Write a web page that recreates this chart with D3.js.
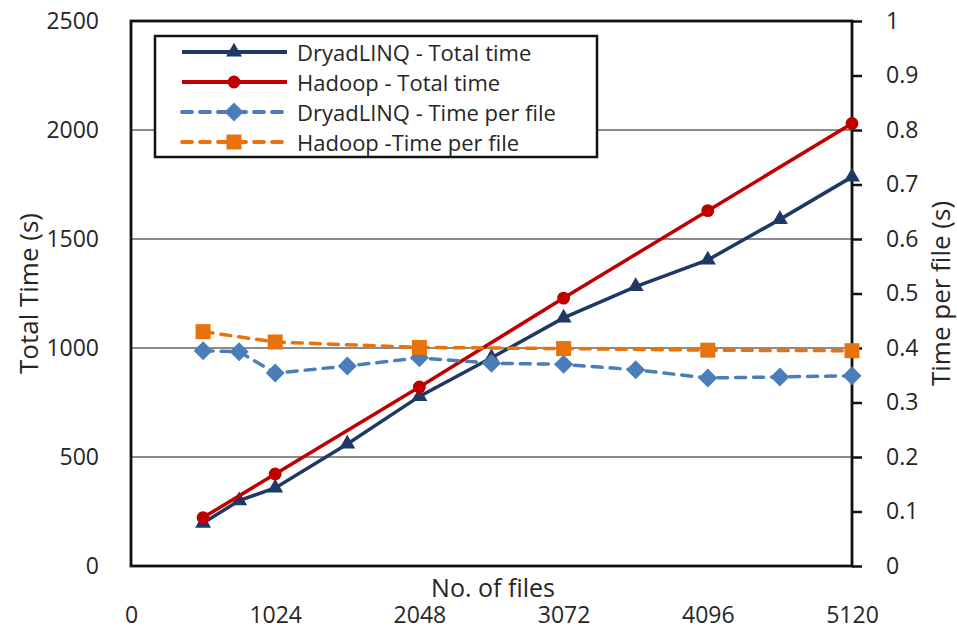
<!DOCTYPE html>
<html>
<head>
<meta charset="utf-8">
<script src="https://cdn.jsdelivr.net/npm/d3@7"></script>
<style>
  html, body { margin: 0; padding: 0; background: #fff; }
  svg { display: block; font-family: "Open Sans", "Liberation Sans", sans-serif; }
</style>
</head>
<body>
<svg id="chart" width="957" height="632"></svg>
<script>
// ---- Data ----
const filesDryad = [512, 768, 1024, 1536, 2048, 2560, 3072, 3584, 4096, 4608, 5120];
const dryadTotal = [197, 300, 358, 560, 778, 955, 1138, 1282, 1404, 1590, 1785];
const dryadPerFile = [0.395, 0.393, 0.354, 0.367, 0.382, 0.372, 0.370, 0.360, 0.345, 0.347, 0.349];

const filesHadoop = [512, 1024, 2048, 3072, 4096, 5120];
const hadoopTotal = [222, 422, 821, 1229, 1630, 2030];
const hadoopPerFile = [0.430, 0.411, 0.401, 0.399, 0.396, 0.395];

const xTicks = [0, 1024, 2048, 3072, 4096, 5120];
const leftTicks = [0, 500, 1000, 1500, 2000, 2500];
const rightTicks = [0, 0.1, 0.2, 0.3, 0.4, 0.5, 0.6, 0.7, 0.8, 0.9, 1];

const seriesNames = ["DryadLINQ - Total time", "Hadoop - Total time", "DryadLINQ - Time per file", "Hadoop -Time per file"];

// ---- Layout ----
const svg = d3.select("#chart");
const L = 131, R = 852, T = 21, B = 566;
const textColor = "#262626";
const tickFont = 23;

const x = d3.scaleLinear().domain([0, 5120]).range([L, R]);
const yL = d3.scaleLinear().domain([0, 2500]).range([B, T]);
const yR = d3.scaleLinear().domain([0, 1]).range([B, T]);

// gridlines
svg.append("g").selectAll("line")
  .data([500, 1000, 1500, 2000])
  .join("line")
  .attr("x1", L).attr("x2", R)
  .attr("y1", d => yL(d)).attr("y2", d => yL(d))
  .attr("stroke", "#8c8c8c").attr("stroke-width", 1.8);

// left axis labels
const gl = svg.append("g").attr("transform", `translate(${L},0)`)
  .call(d3.axisLeft(yL).tickValues(leftTicks).tickSize(0).tickPadding(32).tickFormat(d3.format("d")));
gl.select(".domain").remove();
gl.selectAll("text").attr("font-size", tickFont).attr("fill", textColor).attr("font-family", "Open Sans");

// right axis
const gr = svg.append("g").attr("transform", `translate(${R},0)`)
  .call(d3.axisRight(yR).tickValues(rightTicks).tickSize(10).tickPadding(24)
    .tickFormat(d => String(+d.toFixed(1))));
gr.select(".domain").remove();
gr.selectAll(".tick line").attr("stroke", "#111").attr("stroke-width", 2.5);
gr.selectAll("text").attr("font-size", tickFont).attr("fill", textColor).attr("font-family", "Open Sans");

// bottom labels (detached from plot)
const gb = svg.append("g").attr("transform", `translate(0,607)`)
  .call(d3.axisBottom(x).tickValues(xTicks).tickSize(0).tickPadding(0).tickFormat(d3.format("d")));
gb.select(".domain").remove();
gb.selectAll("text").attr("font-size", tickFont).attr("fill", textColor).attr("font-family", "Open Sans");

// plot frame
svg.append("rect")
  .attr("x", L).attr("y", T).attr("width", R - L).attr("height", B - T)
  .attr("fill", "none").attr("stroke", "#111").attr("stroke-width", 2.8);

// axis titles
svg.append("text")
  .attr("transform", `translate(28,${(T + B) / 2}) rotate(-90)`)
  .attr("text-anchor", "middle").attr("dominant-baseline", "central")
  .attr("font-size", 26).attr("fill", textColor)
  .text("Total Time (s)");
svg.append("text")
  .attr("transform", `translate(940,${(T + B) / 2}) rotate(-90)`)
  .attr("text-anchor", "middle").attr("dominant-baseline", "central")
  .attr("font-size", 26).attr("fill", textColor)
  .text("Time per file (s)");
svg.append("text")
  .attr("x", 493).attr("y", 587)
  .attr("text-anchor", "middle").attr("dominant-baseline", "central")
  .attr("font-size", 25).attr("fill", textColor)
  .text("No. of files");

// ---- Series ----
const colors = ["#1f3864", "#c00000", "#4a7ebb", "#e8720c"];
const series = [
  { xs: filesDryad, ys: dryadTotal, scale: yL, color: colors[0], dash: null, marker: "triangle" },
  { xs: filesHadoop, ys: hadoopTotal, scale: yL, color: colors[1], dash: null, marker: "circle" },
  { xs: filesDryad, ys: dryadPerFile, scale: yR, color: colors[2], dash: "10,8", marker: "diamond" },
  { xs: filesHadoop, ys: hadoopPerFile, scale: yR, color: colors[3], dash: "10,8", marker: "square" }
];

function markerPath(type) {
  if (type === "triangle") return d3.symbol(d3.symbolTriangle, 110)();
  if (type === "circle") return d3.symbol(d3.symbolCircle, 130)();
  if (type === "diamond") return "M0,-9.5L9.5,0L0,9.5L-9.5,0Z";
  if (type === "square") return "M-7.5,-7.5H7.5V7.5H-7.5Z";
}

const lineGen = d3.line();
series.forEach(s => {
  const pts = s.xs.map((v, i) => [x(v), s.scale(s.ys[i])]);
  const g = svg.append("g");
  g.append("path")
    .attr("d", lineGen(pts))
    .attr("fill", "none").attr("stroke", s.color).attr("stroke-width", 3.5)
    .attr("stroke-linecap", s.dash ? "round" : "butt")
    .attr("stroke-dasharray", s.dash);
  g.selectAll("path.m").data(pts).join("path")
    .attr("class", "m")
    .attr("transform", d => `translate(${d[0]},${d[1]})`)
    .attr("d", markerPath(s.marker))
    .attr("fill", s.color);
});

// ---- Legend ----
const lg = svg.append("g");
lg.append("rect")
  .attr("x", 155).attr("y", 36).attr("width", 442).attr("height", 121)
  .attr("fill", "#fff").attr("stroke", "#111").attr("stroke-width", 2.5);
const rowY = [52, 82, 112, 142];
series.forEach((s, i) => {
  const y = rowY[i];
  lg.append("line")
    .attr("x1", 182).attr("x2", 287).attr("y1", y).attr("y2", y)
    .attr("stroke", s.color).attr("stroke-width", 3.8)
    .attr("stroke-linecap", s.dash ? "round" : "butt")
    .attr("stroke-dasharray", s.dash);
  lg.append("path")
    .attr("transform", `translate(234,${y})`)
    .attr("d", markerPath(s.marker))
    .attr("fill", s.color);
  lg.append("text")
    .attr("x", 297).attr("y", y)
    .attr("dominant-baseline", "central")
    .attr("font-size", 22).attr("fill", textColor)
    .text(seriesNames[i]);
});
</script>
</body>
</html>
